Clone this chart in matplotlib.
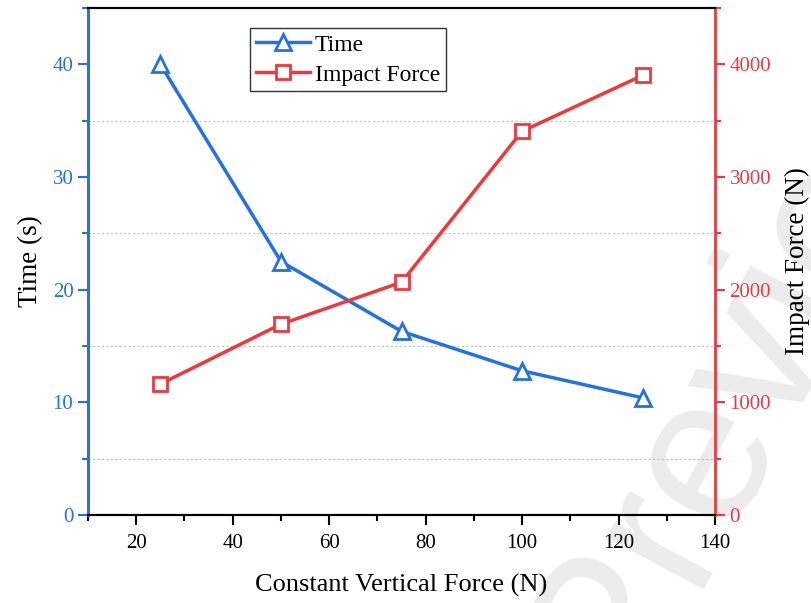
import matplotlib
matplotlib.use("Agg")
import matplotlib.pyplot as plt
from matplotlib.ticker import MultipleLocator

force_x = [25, 50, 75, 100, 125]
time_s = [40.0, 22.5, 16.3, 12.8, 10.4]
impact_n = [1162, 1694, 2066, 3406, 3902]

blue = "#2272e4"
red = "#f0383c"

plt.rcParams['font.family'] = ['Liberation Serif', 'DejaVu Serif']

fig = plt.figure(figsize=(8.11, 6.03), dpi=100)

# background axes for watermark (drawn first, behind everything)
bg = fig.add_axes([0, 0, 1, 1], zorder=-10)
bg.set_axis_off()
bg.set_xlim(0, 1)
bg.set_ylim(0, 1)
bg.text(0.925, 0.41, "Preview", fontsize=150, color="#ececec", family="Liberation Sans",
        rotation=62, ha="center", va="center", rotation_mode="anchor")

ax = fig.add_axes([88/811, 1-515/603, (715-88)/811, (515-8)/603])
ax2 = ax.twinx()
ax.patch.set_alpha(0)
ax2.patch.set_alpha(0)

l1, = ax.plot(force_x, time_s, color=blue, lw=2.5, marker="^", ms=11, mfc="white",
              mec=blue, mew=2, label="Time", zorder=3)
l2, = ax2.plot(force_x, impact_n, color=red, lw=2.5, marker="s", ms=10, mfc="white",
               mec=red, mew=2, label="Impact Force", zorder=3)

ax.set_xlim(10, 140)
ax.set_ylim(0, 45)
ax2.set_ylim(0, 4500)

ax.xaxis.set_major_locator(MultipleLocator(20))
ax.xaxis.set_minor_locator(MultipleLocator(10))
ax.yaxis.set_major_locator(MultipleLocator(10))
ax.yaxis.set_minor_locator(MultipleLocator(5))
ax2.yaxis.set_major_locator(MultipleLocator(1000))
ax2.yaxis.set_minor_locator(MultipleLocator(500))

for y in [5, 15, 25, 35]:
    ax.axhline(y, color="#c0c0c0", lw=0.8, ls=(0, (2, 2)), zorder=1)

for a in (ax, ax2):
    a.tick_params(which="major", direction="out", length=7, width=1.5, labelsize=15)
    a.tick_params(which="minor", direction="out", length=4, width=1.5)
ax.tick_params(axis="x", which="major", pad=7)

ax.tick_params(axis="y", which="both", colors=blue)
ax2.tick_params(axis="y", which="both", colors=red)
ax.tick_params(axis="x", which="both", colors="black")
ax2.tick_params(axis="x", which="both", top=False)

ax.spines["left"].set_color(blue)
ax.spines["left"].set_linewidth(2)
ax2.spines["left"].set_color(blue)
ax2.spines["left"].set_linewidth(2)
ax2.spines["right"].set_color(red)
ax2.spines["right"].set_linewidth(2)
ax.spines["right"].set_visible(False)
for a in (ax, ax2):
    a.spines["top"].set_color("black")
    a.spines["top"].set_linewidth(1.5)
    a.spines["bottom"].set_color("black")
    a.spines["bottom"].set_linewidth(1.5)

ax.set_xlabel("Constant Vertical Force (N)", fontsize=19, labelpad=15)
ax.set_ylabel("Time (s)", fontsize=19.5, labelpad=7)
ax2.set_ylabel("Impact Force (N)", fontsize=19.5, labelpad=10)

leg = ax.legend(handles=[l1, l2], loc="upper left", bbox_to_anchor=(0.258, 0.96),
                fontsize=17, frameon=True, fancybox=False, edgecolor="black",
                handlelength=2.3, handletextpad=0.2, borderpad=0.25, labelspacing=0.35,
                borderaxespad=0)
leg.get_frame().set_linewidth(1.0)
leg.set_zorder(5)

fig.savefig("out.png", dpi=100)
